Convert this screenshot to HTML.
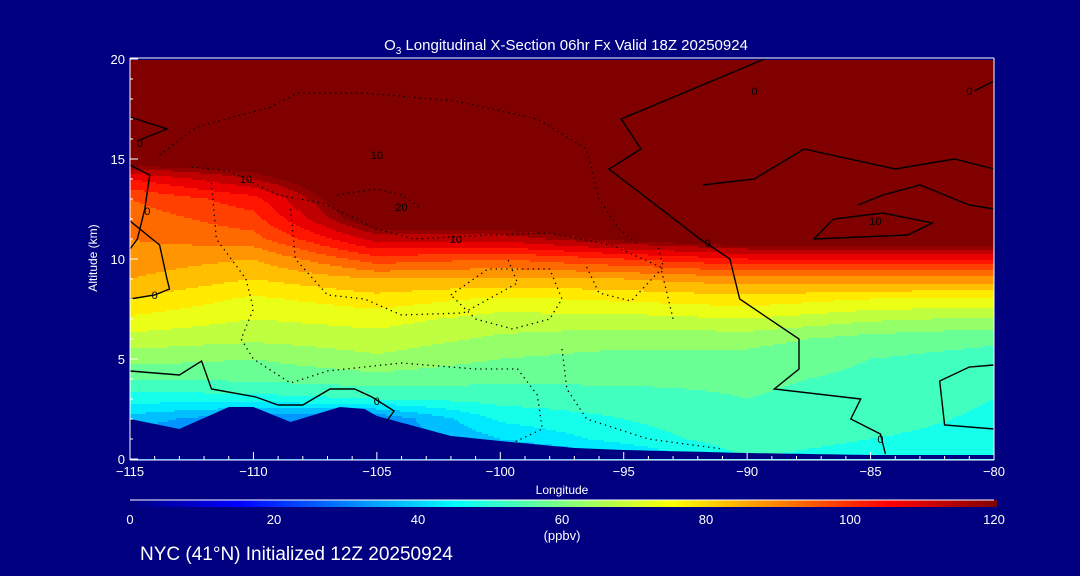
<!DOCTYPE html>
<html><head><meta charset="utf-8"><style>
html,body{margin:0;padding:0;background:#000080;}
svg{display:block;font-family:"Liberation Sans",sans-serif;}
</style></head><body>
<svg id="chart" width="1080" height="576" viewBox="0 0 1080 576" xmlns="http://www.w3.org/2000/svg">
<rect x="0" y="0" width="1080" height="576" fill="#000080"/>
<g id="field"></g>
<g id="terrain"></g>
<g id="contours"></g>
<g id="axes"></g>
<text x="566" y="50" fill="#fff" font-size="15" text-anchor="middle">O<tspan font-size="10" dy="4">3</tspan><tspan dy="-4"> Longitudinal X-Section 06hr  Fx Valid 18Z 20250924</tspan></text>
<text x="562" y="494" fill="#fff" font-size="12" text-anchor="middle">Longitude</text>
<text x="97" y="258" fill="#fff" font-size="12" text-anchor="middle" transform="rotate(-90 97 258)">Altitude (km)</text>
<g id="cbar"></g>
<text x="562" y="540" fill="#fff" font-size="13" text-anchor="middle">(ppbv)</text>
<text x="140" y="560" fill="#fff" font-size="19">NYC (41°N) Initialized 12Z 20250924</text>
</svg>
<script>
// ---- data ----
const lons = [-115,-110,-105,-100,-95,-90,-85,-80];
const alts = [0,1,2,3,4,5,6,7,8,9,10,11,12,13,14,15,16,20];
const o3_m115 = [30,30,38,47,55,62,68,74,80,85,88,90,92,95,105,125,130,130];
const o3_m110 = [30,30,30,48,56,60,66,70,74,80,85,93,98,103,115,125,130,130];
const o3_m105 = [30,30,30,50,58,64,68,72,78,85,98,112,125,130,130,130,130,130];
const o3_m100 = [30,40,46,52,56,60,64,68,74,84,95,112,125,130,130,130,130,130];
const o3_m95  = [38,47,50,53,56,58,62,68,76,85,100,120,130,130,130,130,130,130];
const o3_m90  = [50,53,54,55,56,58,62,70,78,88,105,125,130,130,130,130,130,130];
const o3_m85  = [47,50,52,53,54,55,58,66,75,88,105,125,130,130,130,130,130,130];
const o3_m80  = [46,48,49,50,51,53,56,64,74,88,105,125,130,130,130,130,130,130];
const terrLons = [-115,-113,-111,-110,-108.5,-106.5,-105.5,-105,-102,-100,-97,-95,-90,-85,-80];
const terrAlt  = [2.0,1.5,2.6,2.6,1.85,2.6,2.5,2.15,1.15,0.9,0.55,0.45,0.3,0.2,0.2];
const xTicks = [-115,-110,-105,-100,-95,-90,-85,-80];
const yTicks = [0,5,10,15,20];
const cbarTicks = [0,20,40,60,80,100,120];
// contour polylines [lon,alt] pairs
const solid0Right = [[-89.3,20],[-95.1,17],[-94.3,15.5],[-95.6,14.5],[-91.9,11],[-90.7,10],[-90.3,8],[-87.9,6],[-87.9,4.5],[-88.9,3.5],[-85.4,3],[-85.8,2],[-84.6,1.25],[-84.4,0.25]];
const solid0Low = [[-115,4.4],[-113,4.2],[-112.1,4.9],[-111.7,3.5],[-109.9,3.1],[-109,2.7],[-108,2.7],[-106.9,3.5],[-105.9,3.5],[-105.2,3.1],[-104.3,2.4],[-104.6,1.9]];
const solid0Left1 = [[-115,17.1],[-113.5,16.5],[-114.7,15.9]];
const solid0Left2 = [[-115,14.7],[-114.2,14.2],[-114.4,12.5],[-114.7,11],[-115,10.5]];
const solid0Left3 = [[-115,11.9],[-113.8,10.7],[-113.5,9],[-113.4,8.5],[-114,8.2],[-115,8]];
const solidRight1 = [[-91.8,13.7],[-89.7,14],[-87.7,15.5],[-84,14.5],[-81.6,15],[-80,14.5]];
const solidRight2 = [[-80,12.5],[-81,12.7],[-83,13.7],[-84.5,13.2],[-85.5,12.7]];
const solidRight3 = [[-87.3,11],[-86.5,12],[-84.5,12.3],[-82.5,11.8],[-83.5,11.2],[-87.3,11]];
const solidRight4 = [[-80,4.7],[-81,4.6],[-82.2,3.9],[-82,1.7],[-80,1.5]];
const solidRight5 = [[-80.8,18.4],[-80,18.9]];
const dotM10 = [[-113.8,15.2],[-112.3,16.6],[-109.3,17.6],[-108.2,18.3],[-105.5,18.3],[-101.8,17.9],[-98.5,17],[-96.5,15.5],[-96,13],[-95.2,11.5],[-94.5,10.8]];
const dotP10 = [[-112.5,14.6],[-111,14.4],[-109,13.2],[-107.2,12.8],[-105,11.5],[-103.5,11],[-100.5,11.2],[-98,11.3],[-95.5,10.7],[-93.5,9.6],[-93,7]];
const dotP20 = [[-106.6,13.2],[-105,13.5],[-104,13.2],[-103.3,12.6]];
const dotLoopA = [[-111.7,13.8],[-111.5,11],[-110.3,9],[-110,7.5],[-110.5,6],[-110,5],[-108.5,3.8],[-107,4.4],[-104,4.8],[-101,4.5],[-99.3,4.5],[-98.5,3.2],[-98.3,1.5],[-99.5,0.8]];
const dotLoopB = [[-108.5,12.5],[-108.3,10],[-107,8.2],[-105.5,8],[-104,7.2],[-101.5,7.3],[-99.3,8.8],[-99.7,10]];
const dotLoopC = [[-102,8.2],[-100.5,9.5],[-98,9.5],[-97.5,8],[-98,7],[-99.5,6.5],[-101,7],[-102,8.2]];
const dotRightC = [[-96.5,9.6],[-96,8.3],[-94.7,7.9],[-93.4,9.6],[-93.6,10.6]];
const dotLowRight = [[-97.5,5.5],[-97.3,3.5],[-96.5,2],[-94,1],[-91,0.5]];

// ---- scales ----
const X0=130,X1=994,Y0=459,PY=20;
const xs = lon => X0 + (lon+115)/35*(X1-X0);
const ys = a => Y0 - a*PY;
const NS='http://www.w3.org/2000/svg';
function mk(tag,parent){const e=document.createElementNS(NS,tag);parent.appendChild(e);return e;}
function jet(v){let t=Math.max(0,Math.min(1,v/120));
 const c=x=>Math.round(255*Math.max(0,Math.min(1,x)));
 return `rgb(${c(1.5-Math.abs(4*t-3))},${c(1.5-Math.abs(4*t-2))},${c(1.5-Math.abs(4*t-1))})`;}
const cols=[o3_m115,o3_m110,o3_m105,o3_m100,o3_m95,o3_m90,o3_m85,o3_m80];
function interp1(xsArr,ysArr,x){if(x<=xsArr[0])return ysArr[0];
 for(let i=1;i<xsArr.length;i++){if(x<=xsArr[i]){const f=(x-xsArr[i-1])/(xsArr[i]-xsArr[i-1]);return ysArr[i-1]+f*(ysArr[i]-ysArr[i-1]);}}
 return ysArr[ysArr.length-1];}
function field(lon,alt){const prof=alts.map((_,k)=>interp1(lons,cols.map(c=>c[k]),lon));return interp1(alts,prof,alt);}
// ---- field ----
const fg=document.getElementById('field');
const step=2;
for(let py=60;py<Y0;py+=step){
 const alt=(Y0-(py+step/2))/PY;
 let runStart=X0,runLev=null;
 for(let px=X0;px<=X1;px+=step){
  let lev=null;
  if(px<X1){const lon=-115+(px+step/2-X0)/(X1-X0)*35;let v=field(lon,alt);lev=Math.floor(Math.min(v,120)/5)*5+2.5;if(v>=118)lev=120;}
  if(lev!==runLev){
   if(runLev!==null){const r=mk('rect',fg);
    
    
    r.setAttribute('x',runStart);r.setAttribute('y',py);r.setAttribute('width',px-runStart+0.5);r.setAttribute('height',step+0.5);r.setAttribute('fill',jet(runLev));}
   runStart=px;runLev=lev;}
 }
}
// ---- terrain ----
const tg=document.getElementById('terrain');
let d=`M${X0},${Y0}`;
for(let lon=-115;lon<=-80.001;lon+=0.25){d+=` L${xs(lon).toFixed(1)},${ys(interp1(terrLons,terrAlt,lon)).toFixed(1)}`;}
d+=` L${X1},${ys(interp1(terrLons,terrAlt,-80))} L${X1},${Y0} Z`;
const tp=mk('path',tg);


tp.setAttribute('d',d);tp.setAttribute('fill','#000080');
// ---- contours ----
const cg=document.getElementById('contours');
function line(pts,dotted,name){const p=mk('polyline',cg);
 
 
 p.setAttribute('points',pts.map(q=>xs(q[0]).toFixed(1)+','+ys(q[1]).toFixed(1)).join(' '));
 p.setAttribute('fill','none');p.setAttribute('stroke','#000');
 p.setAttribute('stroke-width',dotted?1.3:1.4);
 if(dotted)p.setAttribute('stroke-dasharray','1.3 4');}
[solid0Right,solid0Low,solid0Left1,solid0Left2,solid0Left3,solidRight1,solidRight2,solidRight3,solidRight4,solidRight5].forEach(s=>line(s,false,'contour-solid'));
[dotM10,dotP10,dotP20,dotLoopA,dotLoopB,dotLoopC,dotRightC,dotLowRight].forEach(s=>line(s,true,'contour-dotted'));
function clabel(txt,lon,alt){const t=mk('text',cg);
 
 
 t.setAttribute('x',xs(lon));t.setAttribute('y',ys(alt));t.setAttribute('font-size','11');t.setAttribute('fill','#000');t.setAttribute('text-anchor','middle');t.textContent=txt;}
clabel('0',-91.6,10.6);clabel('0',-114,8.0);clabel('0',-114.3,12.2);clabel('0',-114.6,15.6);clabel('0',-105,2.7);clabel('0',-84.6,0.8);
clabel('10',-110.3,13.8);clabel('20',-104,12.4);clabel('10',-101.8,10.8);clabel('10',-105,15.0);clabel('10',-84.8,11.7);clabel('0',-89.7,18.2);clabel('0',-81,18.2);
// ---- axes ----
const ag=document.getElementById('axes');
function ln(x1,y1,x2,y2,name){const l=mk('line',ag);
 
 
 l.setAttribute('x1',x1);l.setAttribute('y1',y1);l.setAttribute('x2',x2);l.setAttribute('y2',y2);l.setAttribute('stroke','#fff');l.setAttribute('stroke-width','1');}
ln(X0,58,X1,58,'plot-frame-top');ln(X1,58,X1,Y0+1,'plot-frame-right');
ln(X0,Y0+1,X1,Y0+1,'x-axis-line');ln(X0,58,X0,Y0+1,'y-axis-line');
for(let lon=-115;lon<=-80;lon++){const major=(lon%5===0);ln(xs(lon),Y0+1,xs(lon),Y0+1-(major?8:4),'x-tick');}
for(let a=0;a<=20;a++){ln(X0,ys(a),X0+(a%5===0?8:3),ys(a),'y-tick');}
xTicks.forEach(v=>{const t=mk('text',ag);
 
 
 t.setAttribute('x',xs(v));t.setAttribute('y',476);t.setAttribute('fill','#fff');t.setAttribute('font-size','13');t.setAttribute('text-anchor','middle');t.textContent='\u2212'+Math.abs(v);});
yTicks.forEach(v=>{const t=mk('text',ag);
 
 
 t.setAttribute('x',125);t.setAttribute('y',ys(v)+5);t.setAttribute('fill','#fff');t.setAttribute('font-size','13');t.setAttribute('text-anchor','end');t.textContent=v;});
// ---- colorbar ----
const cb=document.getElementById('cbar');
const defs=mk('defs',cb);const gr=mk('linearGradient',defs);gr.setAttribute('id','jetg');
for(let i=0;i<=24;i++){const s=mk('stop',gr);s.setAttribute('offset',(i/24));s.setAttribute('stop-color',jet(i*5));}
const cr=mk('rect',cb);


cr.setAttribute('x',X0);cr.setAttribute('y',500);cr.setAttribute('width',X1-X0+3);cr.setAttribute('height',7);cr.setAttribute('fill','url(#jetg)');
const cl=mk('line',cb);


cl.setAttribute('x1',X0);cl.setAttribute('y1',500);cl.setAttribute('x2',X1);cl.setAttribute('y2',500);cl.setAttribute('stroke','#fff');
cbarTicks.forEach(v=>{const t=mk('text',cb);
 
 
 t.setAttribute('x',X0+v/120*(X1-X0));t.setAttribute('y',524);t.setAttribute('fill','#fff');t.setAttribute('font-size','13');t.setAttribute('text-anchor','middle');t.textContent=v;});
</script>
</body></html>
